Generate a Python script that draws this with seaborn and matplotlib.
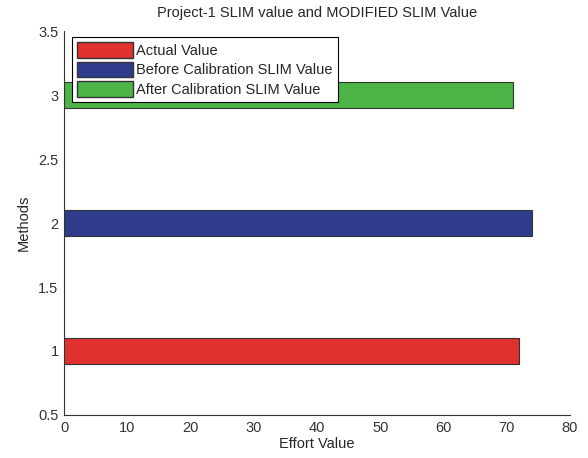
import matplotlib
matplotlib.use("Agg")
import matplotlib.pyplot as plt
import seaborn as sns
import pandas as pd
from matplotlib.patches import Patch

# data
methods = [1, 2, 3]
labels = ["Actual Value", "Before Calibration SLIM Value", "After Calibration SLIM Value"]
effort = [71.9, 74.1, 71.0]
colors = ["#e0312f", "#2f3c8c", "#4db548"]

df = pd.DataFrame({"Methods": methods, "Effort": effort, "Label": labels})

sns.set_style("white")
plt.rcParams["font.family"] = ["Liberation Sans", "DejaVu Sans"]

fig = plt.figure(figsize=(5.88, 4.58), dpi=100)
ax = fig.add_axes([0.109, 0.094, 0.86, 0.838])

sns.barplot(data=df, x="Effort", y="Methods", hue="Label", palette=colors,
            orient="h", native_scale=True, dodge=False, width=0.2, saturation=1,
            edgecolor="#333333", linewidth=0.8, legend=False, ax=ax)

ax.set_xlim(0, 80)
ax.set_ylim(0.5, 3.5)
ax.set_xticks(range(0, 81, 10))
ax.set_yticks([0.5, 1, 1.5, 2, 2.5, 3, 3.5])
ax.set_yticklabels(["0.5", "1", "1.5", "2", "2.5", "3", "3.5"])
ax.tick_params(direction="in", length=4, pad=4, labelsize=10.5, colors="#333333")
for s in ["top", "right"]:
    ax.spines[s].set_visible(False)
for s in ["left", "bottom"]:
    ax.spines[s].set_color("#333333")
    ax.spines[s].set_linewidth(0.8)

ax.set_xlabel("Effort Value", fontsize=10.5, labelpad=2)
ax.set_ylabel("Methods", fontsize=10.5, labelpad=5)
ax.set_title("Project-1 SLIM value and MODIFIED SLIM Value", fontsize=10.5, pad=10)

handles = [Patch(facecolor=c, edgecolor="#333333", label=l) for c, l in zip(colors, labels)]
leg = ax.legend(handles=handles, loc="upper left", bbox_to_anchor=(0.016, 0.985),
                fontsize=10.5, frameon=True, fancybox=False, framealpha=1,
                borderpad=0.35, handlelength=3.8, handleheight=1.3,
                handletextpad=0.25, labelspacing=0.25, borderaxespad=0.0)
leg.get_frame().set_edgecolor("black")
leg.get_frame().set_linewidth(0.8)

fig.savefig("out.png", dpi=100)
